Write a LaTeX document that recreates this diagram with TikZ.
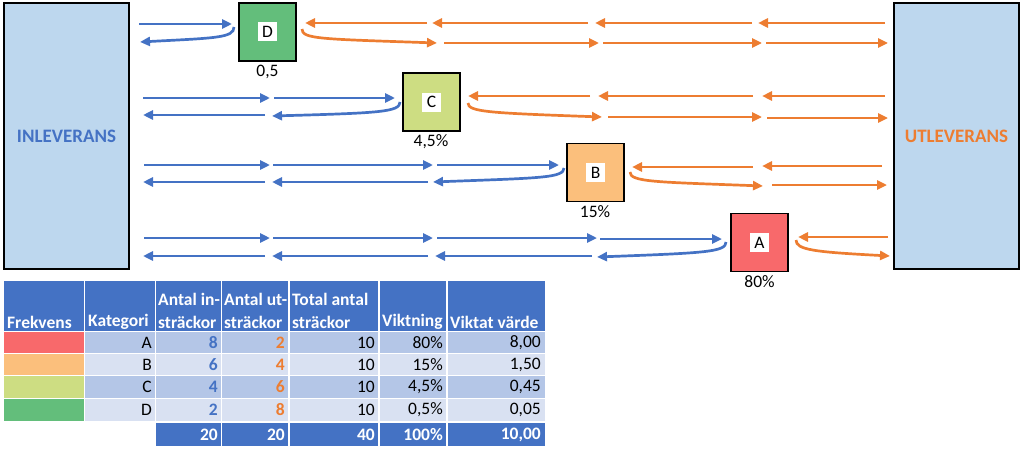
\documentclass[tikz,border=0pt]{standalone}
\usepackage{fontspec}
\setmainfont{Carlito}
\usetikzlibrary{arrows.meta}
\definecolor{obl}{HTML}{4472C4}
\definecolor{oor}{HTML}{ED7D31}
\definecolor{lbox}{HTML}{BDD7EE}
\definecolor{cA}{HTML}{F8696B}
\definecolor{cB}{HTML}{FBBF7C}
\definecolor{cC}{HTML}{CDDD82}
\definecolor{cD}{HTML}{63BE7B}
\definecolor{rowdk}{HTML}{B4C6E7}
\definecolor{rowlt}{HTML}{D9E1F2}
\tikzset{
  bigbox/.style={draw=black, line width=1.6pt, fill=lbox, minimum width=125pt, minimum height=266pt, inner sep=0pt, font=\fontsize{19}{22}\selectfont\bfseries},
  sq/.style={draw=black, line width=1.6pt, minimum width=57pt, minimum height=58pt, inner sep=0pt},
  lbl/.style={fill=white, minimum width=19pt, minimum height=19pt, inner sep=0pt, font=\fontsize{17.5}{20}\selectfont},
  val/.style={inner sep=0pt, font=\fontsize{17.5}{20}\selectfont},
  ba/.style={draw=obl, line width=2.7pt, -{Triangle[length=10pt,width=9pt]}},
  oa/.style={draw=oor, line width=2.7pt, -{Triangle[length=10pt,width=9pt]}},
  hd/.style={inner sep=0pt, anchor=west, text=white, font=\fontsize{17.5}{20}\selectfont\bfseries},
  tx/.style={inner sep=0pt, anchor=east, font=\fontsize{17.5}{20}\selectfont},
  tb/.style={tx, font=\fontsize{17.5}{20}\selectfont\bfseries},
}
\begin{document}
\begin{tikzpicture}[x=1pt,y=-1pt]
\useasboundingbox (0,0) rectangle (1024,452);
% big boxes
\node[bigbox, text=obl] (in) at (66.5,136) {INLEVERANS};
\node[bigbox, text=oor] (ut) at (956.5,136) {UTLEVERANS};
% squares
\node[sq, fill=cD] (D) at (267.5,32) {};
\node[sq, fill=cC] (C) at (431.5,102) {};
\node[sq, fill=cB] (B) at (595.5,172.5) {};
\node[sq, fill=cA] (A) at (759.5,242.5) {};
\node[lbl] (Dl) at (D) {D};
\node[lbl] (Cl) at (C) {C};
\node[lbl] (Bl) at (B) {B};
\node[lbl] (Al) at (A) {A};
\node[val] (Dv) at (267.5,72) {0,5};
\node[val] (Cv) at (431,142) {4,5\%};
\node[val] (Bv) at (595,212) {15\%};
\node[val] (Av) at (759.5,282) {80\%};

% ---------- row D ----------
\draw[ba] (139,24) -- (232,24);
\draw[ba] (234,27) .. controls (234,38) and (215,38) .. (140,42);
\draw[oa] (427,23) -- (305,23);
\draw[oa] (588,23) -- (432,23);
\draw[oa] (752,23) -- (595,23);
\draw[oa] (885,23) -- (758,23);
\draw[oa] (302,29) .. controls (302,39) and (320,39) .. (437,43);
\draw[oa] (444,43) -- (599,43);
\draw[oa] (603,43) -- (762,43);
\draw[oa] (766,43) -- (888,43);

% ---------- row C ----------
\draw[ba] (143,98) -- (270,98);
\draw[ba] (274,98) -- (395,98);
\draw[ba] (400,102) .. controls (400,112) and (380,113) .. (272,116);
\draw[ba] (265,115) -- (143,115);
\draw[oa] (590,96) -- (468,96);
\draw[oa] (753,96) -- (598,96);
\draw[oa] (885,96) -- (762,96);
\draw[oa] (468,103) .. controls (468,112) and (490,113) .. (602,117);
\draw[oa] (608,117) -- (762,117);
\draw[oa] (767,118) -- (888,118);

% ---------- row B ----------
\draw[ba] (144,165) -- (270,165);
\draw[ba] (273,165) -- (433,165);
\draw[ba] (437,165) -- (559,165);
\draw[ba] (564,168) .. controls (564,178) and (540,178) .. (433,182);
\draw[ba] (428,182) -- (272,182);
\draw[ba] (265,182) -- (143,182);
\draw[oa] (753,167) -- (632,167);
\draw[oa] (882,166) -- (762,166);
\draw[oa] (630,172) .. controls (630,182) and (655,182) .. (763,186);
\draw[oa] (772,185) -- (887,185);

% ---------- row A ----------
\draw[ba] (144,238) -- (270,238);
\draw[ba] (273,238) -- (433,238);
\draw[ba] (437,238) -- (597,238);
\draw[ba] (600,239) -- (722,239);
\draw[ba] (726,242) .. controls (726,252) and (705,253) .. (597,257);
\draw[ba] (592,256) -- (435,256);
\draw[ba] (428,256) -- (272,256);
\draw[ba] (265,256) -- (143,256);
\draw[oa] (888,237) -- (798,237);
\draw[oa] (796,240) .. controls (796,250) and (815,252) .. (890,256);

% ---------- table ----------
% header
\foreach \xa/\xb in {4/84,85/155,156/221,222/288,290/378,380/446,448/545}
  \fill[obl] (\xa,281) rectangle (\xb,331);
% data rows
\foreach \ya/\yb/\rc/\fc in {332/353/rowdk/cA,354/375/rowlt/cB,376/398/rowdk/cC,399/421/rowlt/cD}{
  \fill[\fc] (4,\ya) rectangle (84,\yb);
  \foreach \xa/\xb in {85/155,156/221,222/288,290/378,380/446,448/545}
    \fill[\rc] (\xa,\ya) rectangle (\xb,\yb);
}
% total row
\foreach \xa/\xb in {156/221,222/288,290/378,380/446,448/545}
  \fill[obl] (\xa,423) rectangle (\xb,446);

% header texts
\node[hd] (h1) at (7,322) {Frekvens};
\node[hd] (h2) at (88,322) {Kategori};
\node[hd] (h3a) at (158,299) {Antal in-};
\node[hd] (h3b) at (158,322) {sträckor};
\node[hd] (h4a) at (224,299) {Antal ut-};
\node[hd] (h4b) at (224,322) {sträckor};
\node[hd] (h5a) at (292,299) {Total antal};
\node[hd] (h5b) at (292,322) {sträckor};
\node[hd] (h6) at (382,322) {Viktning};
\node[hd] (h7) at (450,322) {Viktat värde};

% body texts
\foreach \y/\k/\i/\u/\w/\v in {342.5/A/8/2/80\%/8{,}00, 364.5/B/6/4/15\%/1{,}50, 387/C/4/6/4{,}5\%/0{,}45, 410/D/2/8/0{,}5\%/0{,}05}{
  \node[tx] at (152,\y) {\k};
  \node[tb, text=obl] at (218,\y) {\i};
  \node[tb, text=oor] at (285,\y) {\u};
  \node[tx] at (375,\y) {10};
  \node[tx] at (443,\y) {\w};
  \node[tx] at (541,\y) {\v};
}
\node[tb, text=white] (t1) at (218,434.5) {20};
\node[tb, text=white] (t2) at (285,434.5) {20};
\node[tb, text=white] (t3) at (375,434.5) {40};
\node[tb, text=white] (t4) at (443,434.5) {100\%};
\node[tb, text=white] (t5) at (541,434.5) {10,00};
\end{tikzpicture}
\end{document}
